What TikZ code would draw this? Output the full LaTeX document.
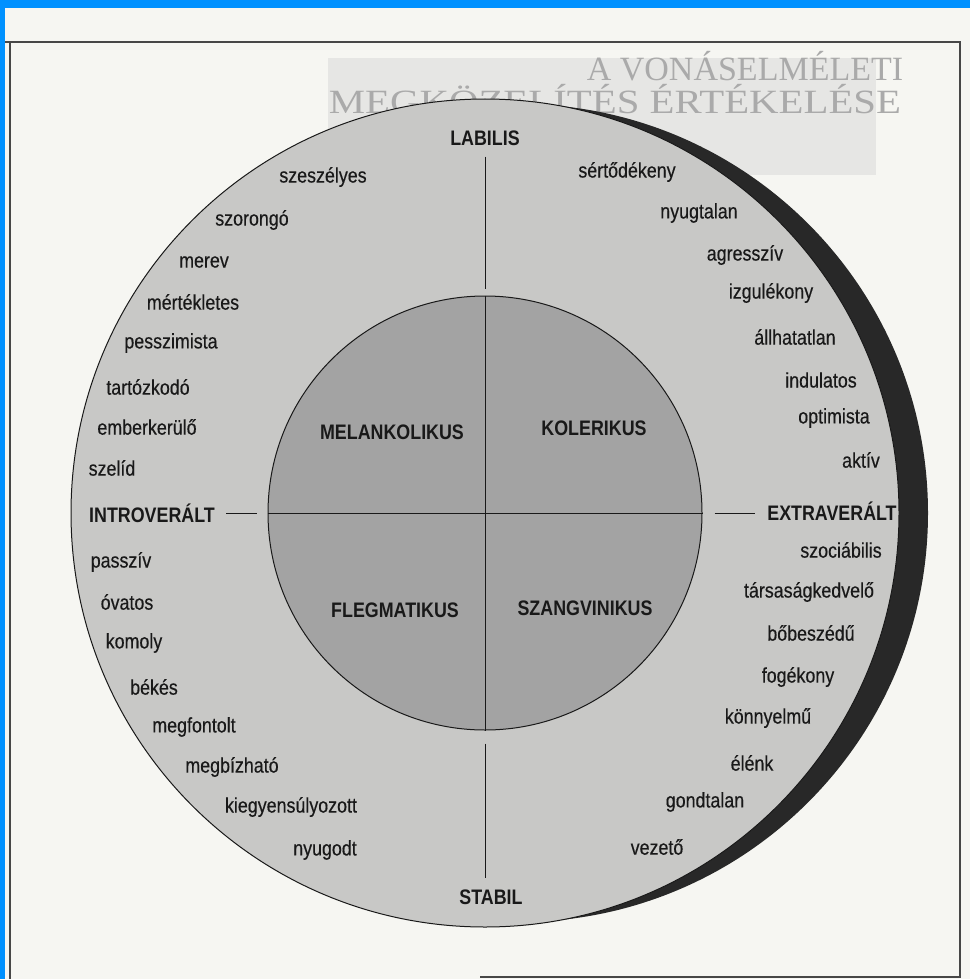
\documentclass[tikz,border=0pt]{standalone}
\usepackage{fontspec}
\setmainfont{Liberation Sans}[FakeStretch=0.85,FakeBold=0.35]
\newfontfamily\headfont{Liberation Sans Bold}[FakeStretch=0.85]
\newfontfamily\bookfont{Liberation Serif}
\newfontfamily\bookwide{Liberation Serif}[FakeStretch=1.2]
\definecolor{blueframe}{RGB}{0,145,255}
\definecolor{paper}{RGB}{246,246,242}
\definecolor{ringgrey}{RGB}{200,200,198}
\definecolor{coregrey}{RGB}{163,163,163}
\definecolor{ink}{RGB}{25,25,25}
\definecolor{shadowc}{RGB}{40,40,40}
\definecolor{titlebg}{RGB}{230,230,228}
\definecolor{faint}{RGB}{170,170,170}
\begin{document}
\begin{tikzpicture}[x=1pt,y=-1pt,
  adj/.style={text=ink,font=\fontsize{21}{24}\selectfont,inner sep=0pt},
  head/.style={text=ink,font=\headfont\fontsize{21}{24}\selectfont,inner sep=0pt},
  axis/.style={draw=ink,line width=0.9pt},
  frameline/.style={draw=ink!80,line width=1.3pt}]
\useasboundingbox (0,0) rectangle (970,979);
% page
\fill[paper] (0,0) rectangle (970,979);
\fill[blueframe] (0,0) rectangle (970,8);
\fill[blueframe] (0,0) rectangle (5,979);
\draw[frameline] (5,42) -- (960,42) -- (960,977) -- (480,977);
\draw[frameline] (10,42) -- (10,979);
% title block behind the figure
\fill[titlebg] (328,58) rectangle (876,175);
\node[text=faint,font=\bookfont\fontsize{34}{36}\selectfont,inner sep=0pt] (t1) at (745,66) {A VONÁSELMÉLETI};
\node[text=faint,font=\bookwide\fontsize{34}{36}\selectfont,inner sep=0pt] (t2) at (615,99) {MEGKÖZELÍTÉS ÉRTÉKELÉSE};
% discs
\node[circle,minimum size=818pt,inner sep=0pt,fill=shadowc] (shadow) at (519,513) {};
\node[circle,minimum size=828pt,inner sep=0pt,fill=ringgrey,draw=ink,line width=1pt] (outer) at (485,513) {};
\node[circle,minimum size=434pt,inner sep=0pt,fill=coregrey,draw=ink,line width=1pt] (inner) at (485,513) {};
% axis labels
\node[head] (labilis) at (485,138) {LABILIS};
\node[head] (stabil) at (491,897) {STABIL};
\node[head] (intro) at (152,513) {INTROVERÁLT};
\node[head] (extra) at (832,511) {EXTRAVERÁLT};
% axes
\draw[axis] ([yshift=-11pt]labilis.south) -- ([yshift=7pt]inner.north);
\draw[axis] (inner.north) -- (inner.south);
\draw[axis] ([yshift=-13pt]inner.south) -- ([yshift=11pt]inner.south |- stabil.north);
\draw[axis] (inner.west) -- (inner.east);
\draw[axis] ([xshift=11pt]intro.east) -- ([xshift=-11pt]inner.west);
\draw[axis] ([xshift=12pt]inner.east) -- ([xshift=-12pt]extra.west |- inner.east);
% quadrant names
\node[head] (mel) at (392,432) {MELANKOLIKUS};
\node[head] (kol) at (594,428) {KOLERIKUS};
\node[head] (fleg) at (395,610) {FLEGMATIKUS};
\node[head] (szang) at (585,608) {SZANGVINIKUS};
% traits: melancholic
\node[adj] (a1) at (323,177) {szeszélyes};
\node[adj] (a2) at (252,220) {szorongó};
\node[adj] (a3) at (204,262) {merev};
\node[adj] (a4) at (193,302) {mértékletes};
\node[adj] (a5) at (171,343) {pesszimista};
\node[adj] (a6) at (148,387) {tartózkodó};
\node[adj] (a7) at (147,427) {emberkerülő};
\node[adj] (a8) at (112,468) {szelíd};
% phlegmatic
\node[adj] (b1) at (121,562) {passzív};
\node[adj] (b2) at (127,602) {óvatos};
\node[adj] (b3) at (134,643) {komoly};
\node[adj] (b4) at (154,687) {békés};
\node[adj] (b5) at (194,727) {megfontolt};
\node[adj] (b6) at (232,767) {megbízható};
\node[adj] (b7) at (291,807) {kiegyensúlyozott};
\node[adj] (b8) at (325,850) {nyugodt};
% choleric
\node[adj] (c1) at (627,172) {sértődékeny};
\node[adj] (c2) at (699,213) {nyugtalan};
\node[adj] (c3) at (745,255) {agresszív};
\node[adj] (c4) at (771,293) {izgulékony};
\node[adj] (c5) at (795,337) {állhatatlan};
\node[adj] (c6) at (821,380) {indulatos};
\node[adj] (c7) at (834,418) {optimista};
\node[adj] (c8) at (861,460) {aktív};
% sanguine
\node[adj] (d1) at (841,550) {szociábilis};
\node[adj] (d2) at (809,592) {társaságkedvelő};
\node[adj] (d3) at (811,633) {bőbeszédű};
\node[adj] (d4) at (798,677) {fogékony};
\node[adj] (d5) at (768,718) {könnyelmű};
\node[adj] (d6) at (752,763) {élénk};
\node[adj] (d7) at (705,802) {gondtalan};
\node[adj] (d8) at (657,847) {vezető};
\end{tikzpicture}
\end{document}
